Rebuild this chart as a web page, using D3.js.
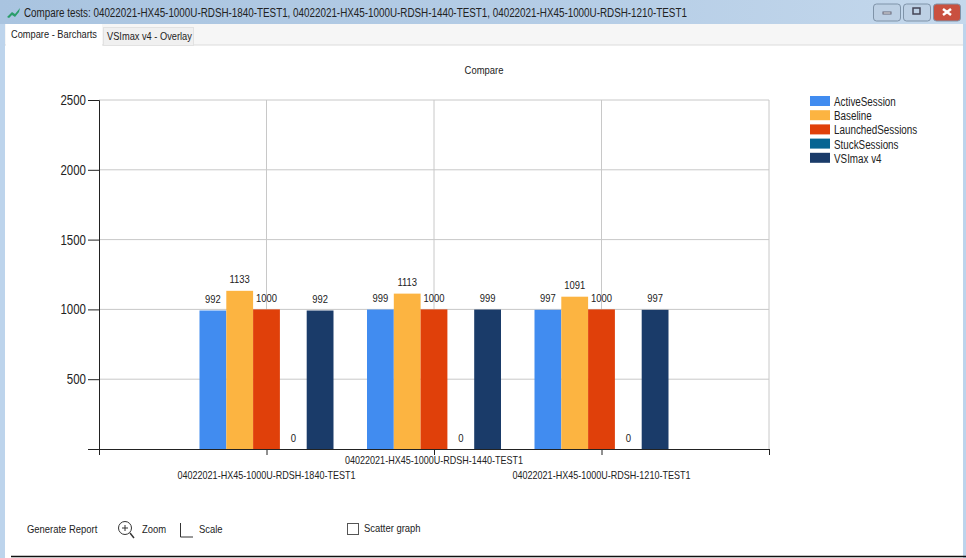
<!DOCTYPE html>
<html>
<head>
<meta charset="utf-8">
<title>Compare</title>
<script src="https://cdn.jsdelivr.net/npm/d3@7"></script>
<style>
html, body { margin: 0; padding: 0; background: #fff; }
svg { display: block; }
text { font-family: "Liberation Sans", Arial, sans-serif; fill: #222; }
</style>
</head>
<body>
<svg id="chart" width="966" height="558"></svg>
<script>
// Values
const tests = [
    "04022021-HX45-1000U-RDSH-1840-TEST1",
    "04022021-HX45-1000U-RDSH-1440-TEST1",
    "04022021-HX45-1000U-RDSH-1210-TEST1"
];
const series = [
    {name: "ActiveSession", color: "#418cf0", values: [992, 999, 997]},
    {name: "Baseline", color: "#fcb441", values: [1133, 1113, 1091]},
    {name: "LaunchedSessions", color: "#e0400a", values: [1000, 1000, 1000]},
    {name: "StuckSessions", color: "#056492", values: [0, 0, 0]},
    {name: "VSImax v4", color: "#1a3b69", values: [992, 999, 997]}
];

const svg = d3.select("#chart");

function makeLine(svg_obj, color, x1, y1, x2, y2, stroke_width) {
    return svg_obj.append("line")
        .attr("x1", x1).attr("y1", y1)
        .attr("x2", x2).attr("y2", y2)
        .attr("stroke", color)
        .attr("stroke-width", stroke_width);
}

function makeText(svg_obj, font_size, x, y, text_str, anchor) {
    return svg_obj.append("text")
        .attr("font-size", font_size)
        .attr("x", x).attr("y", y)
        .attr("text-anchor", anchor || "start")
        .text(text_str);
}

// ---- window frame ----
const defs = svg.append("defs");
const titleGrad = defs.append("linearGradient").attr("id", "titleGrad")
    .attr("x1", 0).attr("x2", 1).attr("y1", 0).attr("y2", 0);
titleGrad.append("stop").attr("offset", "0%").attr("stop-color", "#a9c4e0");
titleGrad.append("stop").attr("offset", "60%").attr("stop-color", "#b5cde6");
titleGrad.append("stop").attr("offset", "100%").attr("stop-color", "#c4d8ec");

svg.append("rect").attr("width", 966).attr("height", 558).attr("fill", "#bdd4ec");
svg.append("rect").attr("x", 5).attr("y", 24).attr("width", 958).attr("height", 534).attr("fill", "#fff");
svg.append("rect").attr("width", 966).attr("height", 24).attr("fill", "url(#titleGrad)");
svg.append("rect").attr("x", 5).attr("y", 24).attr("width", 958).attr("height", 21).attr("fill", "#f6f6f6");
makeLine(svg, "#dcdcdc", 5, 45, 963, 45, 1);
svg.append("rect").attr("x", 6).attr("y", 24).attr("width", 96).attr("height", 22).attr("fill", "#fff");
svg.append("rect").attr("x", 103.5).attr("y", 27.5).attr("width", 90).attr("height", 18).attr("fill", "#f0f0f0").attr("stroke", "#e2e2e2");

// title bar icon and text
svg.append("path").attr("d", "M7 17 L12 12 L15 14 L20 8 L19 12 L15 17 L12 15 L9 18 Z").attr("fill", "#2a9d6a");
makeText(svg, 12, 24, 17, "Compare tests: " + tests.join(", "));
makeText(svg, 11.3, 11, 38, "Compare - Barcharts");
makeText(svg, 11.3, 107, 40, "VSImax v4 - Overlay");

// window buttons
const winButtons = [
    {x: 873.5, w: 27, fill: "#bdd0e4"},
    {x: 903.5, w: 27, fill: "#bdd0e4"},
    {x: 933.5, w: 27, fill: "#c9503f"}
];
svg.selectAll("rect.winbtn").data(winButtons).join("rect")
    .attr("class", "winbtn")
    .attr("x", d => d.x).attr("y", 4)
    .attr("width", d => d.w).attr("height", 17).attr("rx", 3)
    .attr("fill", d => d.fill)
    .attr("stroke", "#7f93a8");
svg.append("rect").attr("x", 883).attr("y", 12).attr("width", 8).attr("height", 2).attr("fill", "#f4f6f8").attr("stroke", "#667");
svg.append("rect").attr("x", 913).attr("y", 8).attr("width", 7).attr("height", 6).attr("fill", "none").attr("stroke", "#445").attr("stroke-width", 1.5);
makeLine(svg, "#fff", 943, 9, 951, 15, 2.5);
makeLine(svg, "#fff", 951, 9, 943, 15, 2.5);

// ---- chart ----
const plot = {left: 99, right: 769, top: 100, bottom: 449};

// the axis has 4 intervals, the tests sit on the inner ticks
const x = d3.scaleLinear().domain([0, 4]).range([plot.left, plot.right]);
const y = d3.scaleLinear().domain([0, 2500]).range([plot.bottom, plot.top]);
const inner = d3.scaleBand().domain(series.map(d => d.name)).range([-67, 67]);

makeText(svg, 11.5, 484, 74, "Compare", "middle");

// grid
const g = svg.append("g");
[500, 1000, 1500, 2000, 2500].forEach(v => makeLine(g, "#c8c8c8", plot.left, y(v), plot.right, y(v), 1));
[1, 2, 3, 4].forEach(v => makeLine(g, "#c8c8c8", x(v), plot.top, x(v), plot.bottom, 1));

// bars
series.forEach(s => {
    svg.append("g").selectAll("rect").data(s.values).join("rect")
        .attr("x", (d, i) => x(i + 1) + inner(s.name))
        .attr("y", d => y(d))
        .attr("width", inner.bandwidth())
        .attr("height", d => plot.bottom - y(d))
        .attr("fill", s.color);
    svg.append("g").selectAll("text").data(s.values).join("text")
        .attr("font-size", 11.5)
        .attr("text-anchor", "middle")
        .attr("x", (d, i) => x(i + 1) + inner(s.name) + inner.bandwidth() / 2)
        .attr("y", d => y(d) - 7.5)
        .text(d => d);
});

// axes
const yAxis = d3.axisLeft(y).tickValues([500, 1000, 1500, 2000, 2500])
    .tickSize(11).tickPadding(2).tickFormat(d3.format("d"));
const yG = svg.append("g").attr("transform", "translate(" + plot.left + ",0)").call(yAxis);
yG.selectAll("text").attr("font-size", 14).attr("font-family", null);
yG.select(".domain").attr("stroke", "#222");
yG.selectAll("line").attr("stroke", "#222");

const xAxis = d3.axisBottom(x).tickValues([0, 1, 2, 3, 4]).tickSize(6).tickFormat("");
const xG = svg.append("g").attr("transform", "translate(0," + plot.bottom + ")").call(xAxis);
xG.select(".domain").attr("stroke", "#222");
xG.selectAll("line").attr("stroke", "#222");

// the labels are staggered on two rows
tests.forEach((t, i) => {
    makeText(svg, 11, x(i + 1), i % 2 == 0 ? 479 : 464, t, "middle");
});

// legend
const legend = svg.append("g").selectAll("g").data(series).join("g")
    .attr("transform", (d, i) => "translate(810," + (96 + i * 14.2) + ")");
legend.append("rect").attr("width", 20).attr("height", 10).attr("fill", d => d.color);
legend.append("text").attr("font-size", 12).attr("x", 24).attr("y", 10).text(d => d.name);

// ---- bottom toolbar ----
makeText(svg, 11.5, 27, 533, "Generate Report");
svg.append("circle").attr("cx", 125).attr("cy", 528).attr("r", 6.5).attr("fill", "none").attr("stroke", "#333");
makeLine(svg, "#333", 130, 533, 134, 538, 1.5);
makeLine(svg, "#333", 122, 528, 128, 528, 1);
makeLine(svg, "#333", 125, 525, 125, 531, 1);
makeText(svg, 11.5, 142, 533, "Zoom");
svg.append("path").attr("d", "M180.5 523 V537 H193").attr("fill", "none").attr("stroke", "#333");
makeText(svg, 11.5, 199, 533, "Scale");
svg.append("rect").attr("x", 347.5).attr("y", 523.5).attr("width", 11).attr("height", 11).attr("fill", "#fff").attr("stroke", "#555");
makeText(svg, 11.5, 364, 532, "Scatter graph");
makeLine(svg, "#111", 11, 556.5, 966, 556.5, 1.5);

// The screenshot uses a tall narrow font, no narrow family is installed
// so squeeze every text to 82% of its natural width
svg.selectAll("text").each(function () {
    const w = this.getComputedTextLength();
    if (w > 0) {
        d3.select(this)
            .attr("textLength", (w * 0.82).toFixed(1))
            .attr("lengthAdjust", "spacingAndGlyphs");
    }
});
</script>
</body>
</html>
